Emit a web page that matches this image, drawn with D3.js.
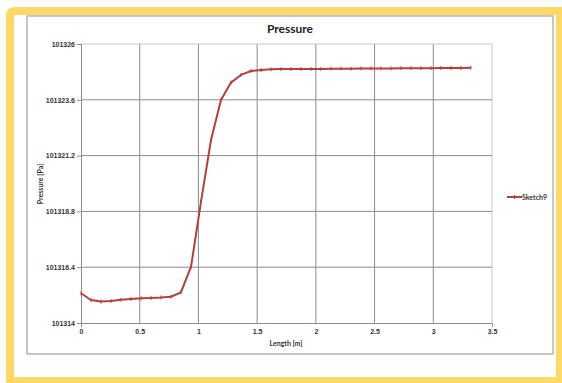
<!DOCTYPE html>
<html>
<head>
<meta charset="utf-8">
<script src="https://cdn.jsdelivr.net/npm/d3@7"></script>
<style>
  body { margin: 0; background: #fff; }
  svg { display: block; font-family: Lato, "Open Sans", sans-serif; }
</style>
</head>
<body>
<svg id="chart" width="562" height="383"></svg>
<script>
// Data
const lengths = [0, 0.085, 0.17, 0.255, 0.341, 0.426, 0.511, 0.596, 0.681, 0.766,
  0.851, 0.937, 1.022, 1.107, 1.192, 1.277, 1.362, 1.447, 1.533, 1.618,
  1.703, 1.788, 1.873, 1.958, 2.043, 2.129, 2.214, 2.299, 2.384, 2.469,
  2.554, 2.639, 2.724, 2.81, 2.895, 2.98, 3.065, 3.15, 3.235, 3.32];
const pressures = [101315.28, 101314.99, 101314.92, 101314.95, 101315.0, 101315.03, 101315.06, 101315.08, 101315.1, 101315.13,
  101315.32, 101316.42, 101319.22, 101321.87, 101323.59, 101324.34, 101324.67, 101324.84, 101324.88, 101324.91,
  101324.92, 101324.92, 101324.93, 101324.93, 101324.93, 101324.94, 101324.94, 101324.94, 101324.95, 101324.95,
  101324.95, 101324.95, 101324.96, 101324.96, 101324.96, 101324.96, 101324.97, 101324.97, 101324.97, 101324.98];
const xTicks = [0, 0.5, 1, 1.5, 2, 2.5, 3, 3.5];
const yTicks = [101314, 101316.4, 101318.8, 101321.2, 101323.6, 101326];
const seriesName = "Sketch9";

const svg = d3.select("#chart");
const lineColor = "#b3403d";

// yellow frame
svg.append("rect")
  .attr("x", 6).attr("y", 7).attr("width", 570).attr("height", 390)
  .attr("rx", 8).attr("fill", "#ffd966");
svg.append("rect")
  .attr("x", 14).attr("y", 15).attr("width", 542).attr("height", 362)
  .attr("fill", "#fff");

// chart border
svg.append("rect")
  .attr("x", 27).attr("y", 16).attr("width", 526).attr("height", 338)
  .attr("fill", "#fff").attr("stroke", "#b4b4b4").attr("stroke-width", 1.5);

const plot = {left: 81, top: 44, right: 492, bottom: 323};

const x = d3.scaleLinear().domain([0, 3.5]).range([plot.left, plot.right]);
const y = d3.scaleLinear().domain([101314, 101326]).range([plot.bottom, plot.top]);

// gridlines
svg.append("g").selectAll("line")
  .data(xTicks.slice(1))
  .enter().append("line")
  .attr("x1", d => x(d)).attr("x2", d => x(d))
  .attr("y1", plot.top).attr("y2", plot.bottom)
  .attr("stroke", d => d === 3.5 ? "#c8c8c8" : "#8c8c8c").attr("stroke-width", 1);
svg.append("g").selectAll("line")
  .data(yTicks.slice(1))
  .enter().append("line")
  .attr("x1", plot.left).attr("x2", plot.right)
  .attr("y1", d => y(d)).attr("y2", d => y(d))
  .attr("stroke", d => d === 101326 ? "#c8c8c8" : "#8c8c8c").attr("stroke-width", 1);

// axes
const xAxis = svg.append("g")
  .attr("transform", "translate(0," + plot.bottom + ")")
  .call(d3.axisBottom(x).tickValues(xTicks).tickSize(4).tickFormat(d3.format("")));
const yAxis = svg.append("g")
  .attr("transform", "translate(" + plot.left + ",0)")
  .call(d3.axisLeft(y).tickValues(yTicks).tickSize(4).tickFormat(d => String(+d.toFixed(1))));

[xAxis, yAxis].forEach(function(a) {
  a.select(".domain").attr("stroke", "#8c8c8c");
  a.selectAll(".tick line").attr("stroke", "#8c8c8c");
  a.selectAll("text")
    .attr("fill", "#333")
    .style("font-size", "7px")
    .style("font-weight", "bold");
});
xAxis.selectAll(".tick line").attr("y2", 0);
xAxis.selectAll("text").attr("y", 6);
yAxis.selectAll("text").attr("x", -6);

// title and axis titles
svg.append("text")
  .attr("x", 290).attr("y", 33)
  .attr("text-anchor", "middle")
  .style("font-size", "12px").style("font-weight", "bold")
  .attr("fill", "#222")
  .text("Pressure");
svg.append("text")
  .attr("x", 286).attr("y", 346)
  .attr("text-anchor", "middle")
  .style("font-size", "7px").style("font-weight", "bold")
  .attr("fill", "#333")
  .text("Length [m]");
svg.append("text")
  .attr("transform", "translate(43,184) rotate(-90)")
  .attr("text-anchor", "middle")
  .style("font-size", "7px").style("font-weight", "bold")
  .attr("fill", "#333")
  .text("Pressure [Pa]");

// series
const line = d3.line()
  .x((d, i) => x(lengths[i]))
  .y(d => y(d));
svg.append("path")
  .datum(pressures)
  .attr("d", line)
  .attr("fill", "none")
  .attr("stroke", lineColor)
  .attr("stroke-width", 2)
  .attr("stroke-linejoin", "round");

svg.append("g").selectAll("line")
  .data(pressures)
  .enter().append("line")
  .attr("x1", (d, i) => x(lengths[i])).attr("x2", (d, i) => x(lengths[i]))
  .attr("y1", d => y(d) - 2).attr("y2", d => y(d) + 2)
  .attr("stroke", lineColor).attr("stroke-width", 1);

// legend
svg.append("line")
  .attr("x1", 507).attr("x2", 522).attr("y1", 197).attr("y2", 197)
  .attr("stroke", lineColor).attr("stroke-width", 2);
svg.append("line")
  .attr("x1", 514.5).attr("x2", 514.5).attr("y1", 195).attr("y2", 199)
  .attr("stroke", lineColor).attr("stroke-width", 1);
svg.append("text")
  .attr("x", 522).attr("y", 199.5)
  .style("font-size", "7px").style("font-weight", "bold")
  .attr("fill", "#333")
  .text(seriesName);
</script>
</body>
</html>
